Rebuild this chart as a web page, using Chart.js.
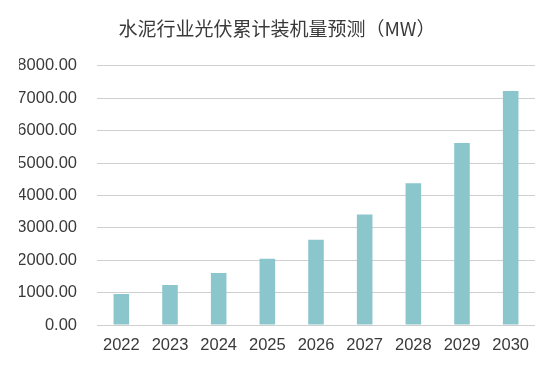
<!DOCTYPE html>
<html>
<head>
<meta charset="utf-8">
<script src="https://cdn.jsdelivr.net/npm/chart.js@4/dist/chart.umd.min.js"></script>
<style>
    html, body { margin: 0; padding: 0; background: #fff; }
    #wrap { width: 557px; height: 369px; }
</style>
</head>
<body>
<div id="wrap"><canvas id="pvChart"></canvas></div>
<script>
// ---- DATA ----
const years = ["2022", "2023", "2024", "2025", "2026", "2027", "2028", "2029", "2030"];
const capacityMW = [955, 1234, 1608, 2043, 2634, 3411, 4375, 5619, 7220];
const yTicks = [0, 1000, 2000, 3000, 4000, 5000, 6000, 7000, 8000];

const titleText = "水泥行业光伏累计装机量预测（MW）";
const textColor = "#3a3a3a";
const gridColor = "#cfcfcf";

const ctx = document.getElementById("pvChart").getContext("2d");

new Chart(ctx, {
    type: "bar",
    data: {
        labels: years,
        datasets: [{
            label: "累计装机量",
            data: capacityMW,
            backgroundColor: "#8bc6cd",
            barPercentage: 0.32,
            categoryPercentage: 1
        }]
    },
    options: {
        responsive: true,
        maintainAspectRatio: false,
        animation: false,
        // left/right padding also centres the title where the original has it
        layout: { padding: { left: 19, right: 22, top: 0, bottom: 0 } },
        plugins: {
            legend: { display: false },
            tooltip: { enabled: false },
            title: {
                display: true,
                text: titleText,
                color: textColor,
                font: { family: "'Noto Sans CJK SC', sans-serif", size: 19, weight: "normal" },
                padding: { top: 17, bottom: 26 }
            }
        },
        scales: {
            x: {
                grid: { display: false },
                border: { display: false },
                ticks: {
                    color: textColor,
                    font: { family: "'Liberation Sans', Arial, sans-serif", size: 16.5 },
                    padding: 3,
                    maxRotation: 0,
                    autoSkip: false
                },
                afterFit: scale => { scale.height = 44; }
            },
            y: {
                min: 0,
                max: 8000,
                afterBuildTicks: scale => { scale.ticks = yTicks.map(v => ({ value: v })); },
                grid: { color: gridColor, lineWidth: 1, drawTicks: false },
                border: { display: false },
                ticks: {
                    color: textColor,
                    font: { family: "'Liberation Sans', Arial, sans-serif", size: 16.5 },
                    padding: 20,
                    callback: v => Number(v).toFixed(2)
                },
                afterFit: scale => { scale.width = 78; }
            }
        }
    }
});
</script>
</body>
</html>
